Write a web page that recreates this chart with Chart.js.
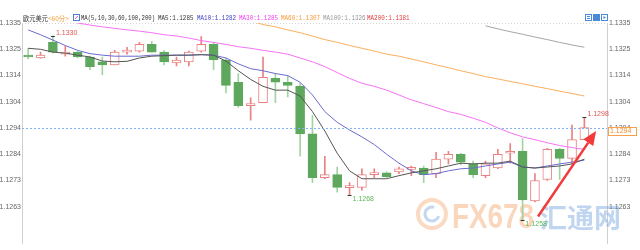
<!DOCTYPE html>
<html><head><meta charset="utf-8">
<script src="https://cdn.jsdelivr.net/npm/chart.js@4.4.1/dist/chart.umd.min.js"></script>
<style>html,body{margin:0;padding:0;background:#fff}canvas{display:block}</style>
</head><body>
<canvas id="c" width="640" height="250"></canvas>
<script>
// ---- data (EUR/USD, 60 min candles) ----
const opens  = [1.13224,1.13213,1.13274,1.13228,1.13236,1.13217,1.13198,1.13186,1.13236,1.13240,1.13266,1.13236,1.13194,1.13198,1.13240,1.13266,1.13205,1.13118,1.13026,1.13038,1.13133,1.13118,1.13102,1.12916,1.12744,1.12756,1.12705,1.12706,1.12756,1.12763,1.12767,1.12777,1.12782,1.12760,1.12817,1.12836,1.12798,1.12752,1.12782,1.12840,1.12847,1.12653,1.12737,1.12855,1.12820,1.12893];
const closes = [1.13217,1.13224,1.13236,1.13236,1.13217,1.13179,1.13186,1.13236,1.13240,1.13266,1.13236,1.13198,1.13205,1.13236,1.13266,1.13205,1.13106,1.13026,1.13034,1.13137,1.13118,1.13106,1.12916,1.12744,1.12756,1.12706,1.12706,1.12756,1.12763,1.12748,1.12779,1.12782,1.12756,1.12817,1.12836,1.12805,1.12756,1.12798,1.12836,1.12847,1.12657,1.12733,1.12855,1.12820,1.12893,1.12940];
const highs  = [1.13251,1.13236,1.13300,1.13259,1.13240,1.13220,1.13217,1.13243,1.13255,1.13274,1.13278,1.13243,1.13217,1.13240,1.13297,1.13274,1.13213,1.13152,1.13057,1.13217,1.13152,1.13144,1.13114,1.12988,1.12828,1.12786,1.12725,1.12779,1.12779,1.12767,1.12786,1.12790,1.12790,1.12843,1.12847,1.12840,1.12809,1.12809,1.12855,1.12878,1.12897,1.12760,1.12859,1.12859,1.12950,1.12980];
const lows   = [1.13209,1.13211,1.13232,1.13220,1.13213,1.13167,1.13148,1.13186,1.13228,1.13236,1.13236,1.13186,1.13182,1.13182,1.13236,1.13167,1.13076,1.13019,1.12969,1.13038,1.13038,1.13060,1.12828,1.12725,1.12740,1.12687,1.12678,1.12695,1.12744,1.12744,1.12760,1.12752,1.12725,1.12744,1.12798,1.12794,1.12744,1.12744,1.12779,1.12801,1.12578,1.12649,1.12733,1.12737,1.12798,1.12893];

const ma5   = [1.13251,1.13247,1.13236,1.13232,1.13224,1.13217,1.13201,1.13198,1.13200,1.13213,1.13220,1.13222,1.13224,1.13224,1.13226,1.13224,1.13201,1.13163,1.13129,1.13102,1.13087,1.13087,1.13064,1.13003,1.12927,1.12840,1.12771,1.12740,1.12740,1.12740,1.12752,1.12763,1.12771,1.12779,1.12790,1.12801,1.12798,1.12801,1.12801,1.12809,1.12786,1.12782,1.12786,1.12790,1.12798,1.12817];
const ma10  = [1.13323,1.13304,1.13283,1.13262,1.13243,1.13230,1.13224,1.13220,1.13220,1.13220,1.13224,1.13224,1.13224,1.13224,1.13226,1.13224,1.13213,1.13190,1.13171,1.13163,1.13152,1.13144,1.13118,1.13068,1.13003,1.12961,1.12931,1.12904,1.12874,1.12836,1.12801,1.12771,1.12756,1.12760,1.12771,1.12779,1.12782,1.12790,1.12798,1.12805,1.12786,1.12782,1.12790,1.12798,1.12805,1.12813];
const ma30  = [1.13400,1.13388,1.13377,1.13365,1.13350,1.13342,1.13335,1.13329,1.13323,1.13318,1.13312,1.13304,1.13299,1.13291,1.13281,1.13274,1.13266,1.13257,1.13251,1.13243,1.13236,1.13228,1.13213,1.13198,1.13179,1.13156,1.13133,1.13114,1.13102,1.13087,1.13068,1.13049,1.13034,1.13019,1.13003,1.12992,1.12977,1.12961,1.12939,1.12920,1.12904,1.12893,1.12881,1.12870,1.12862,1.12855];
const ma60  = [null,null,null,null,null,null,null,null,null,null,null,null,null,null,null,null,1.13377,1.13367,1.13358,1.13344,1.13335,1.13323,1.13312,1.13299,1.13285,1.13274,1.13262,1.13251,1.13240,1.13228,1.13220,1.13209,1.13198,1.13186,1.13175,1.13163,1.13152,1.13140,1.13131,1.13121,1.13112,1.13102,1.13093,1.13083,1.13074,1.13064];
const ma100 = [null,null,null,null,null,null,null,null,null,null,null,null,null,null,null,null,null,null,null,null,null,null,null,null,null,null,null,null,null,null,null,null,null,null,null,null,null,1.13339,1.13327,1.13316,1.13306,1.13295,1.13285,1.13274,1.13264,1.13255];

const tickValues = [1.1335,1.13247,1.13145,1.13042,1.12939,1.12836,1.12733,1.12630];
const tickLabels = ['1.1335','1.1325','1.1314','1.1304','1.1294','1.1284','1.1273','1.1263'];

const titleText = '欧元美元';
const periodText = '<60分>';
const maParamText = 'MA(5,10,30,60,100,200)';
const maLegend = ['MA5:1.1285','MA10:1.1282','MA30:1.1285','MA60:1.1307','MA100:1.1326','MA200:1.1381'];

const extremeMarks = [{i:2,kind:'high'},{i:26,kind:'low'},{i:40,kind:'low'},{i:45,kind:'high'}];
const arrowFrom = {x:41.25, y:1.12592};
const arrowTo   = {x:45.95, y:1.12927};

// ---- styles ----
const UP_LINE = '#e98282', DOWN_FILL = '#5da85d', DOWN_WICK = '#a3d3a3';
const isUp = opens.map((o,i)=>closes[i]>=o);
const pts = arr => arr.map((v,i)=>({x:i,y:v}));

const plugin = {
  id:'deco',
  beforeDatasetsDraw(chart){
    const {ctx, chartArea:a} = chart;
    ctx.save();
    ctx.strokeStyle='#d4d4d4'; ctx.lineWidth=1; ctx.setLineDash([1,2]);
    ctx.beginPath(); ctx.moveTo(a.left, a.top+0.5); ctx.lineTo(a.right, a.top+0.5); ctx.stroke();
    ctx.setLineDash([]);
    // watermark
    ctx.lineWidth=4; ctx.strokeStyle='rgba(240,150,80,0.35)';
    ctx.beginPath(); ctx.arc(432,214,14,0,Math.PI*2); ctx.stroke();
    ctx.lineWidth=3; ctx.strokeStyle='rgba(90,140,210,0.35)';
    ctx.beginPath(); ctx.arc(432,214,7,0.3,Math.PI*1.6); ctx.stroke();
    ctx.textBaseline='alphabetic'; ctx.textAlign='left';
    ctx.fillStyle='rgba(242,150,80,0.38)';
    ctx.font='bold 35px "Liberation Sans", Arial';
    ctx.fillText('FX678', 452, 228, 82);
    ctx.fillStyle='rgba(90,145,215,0.38)';
    ctx.font='bold 27px "Noto Sans CJK SC"';
    ctx.fillText('汇通网', 540, 228, 82);
    ctx.restore();
  },
  afterDatasetsDraw(chart){
    const {ctx, chartArea:a, scales:{x,y}} = chart;
    ctx.save();
    const py = Math.round(y.getPixelForValue(closes[closes.length-1]))+0.5;
    ctx.strokeStyle='#7fb2ee'; ctx.lineWidth=1; ctx.setLineDash([2,2]);
    ctx.beginPath(); ctx.moveTo(a.left, py); ctx.lineTo(a.right, py); ctx.stroke();
    ctx.setLineDash([]);
    // extremes
    ctx.font='7px "Liberation Sans", Arial'; ctx.textBaseline='middle'; ctx.textAlign='left';
    extremeMarks.forEach(m=>{
      const v = m.kind==='high' ? highs[m.i] : lows[m.i];
      const px = x.getPixelForValue(m.i), vy = y.getPixelForValue(v);
      ctx.strokeStyle='#333';
      ctx.beginPath(); ctx.moveTo(px-2, Math.round(vy)+0.5); ctx.lineTo(px+2, Math.round(vy)+0.5); ctx.stroke();
      ctx.fillStyle = m.kind==='high' ? '#e25555' : '#5cb85c';
      ctx.fillText(v.toFixed(4), px+3, m.kind==='high' ? vy-3 : vy+4);
    });
    // arrow
    const x1=x.getPixelForValue(arrowFrom.x), y1=y.getPixelForValue(arrowFrom.y);
    const x2=x.getPixelForValue(arrowTo.x), y2=y.getPixelForValue(arrowTo.y);
    const dx=x2-x1, dy=y2-y1, L=Math.hypot(dx,dy), ux=dx/L, uy=dy/L;
    const hb = {x:x2-ux*14, y:y2-uy*14};
    ctx.strokeStyle='#f23a3a'; ctx.fillStyle='#f23a3a'; ctx.lineWidth=2.5;
    ctx.beginPath(); ctx.moveTo(x1,y1); ctx.lineTo(hb.x,hb.y); ctx.stroke();
    ctx.beginPath(); ctx.moveTo(x2,y2); ctx.lineTo(hb.x-uy*6, hb.y+ux*6); ctx.lineTo(hb.x+uy*6, hb.y-ux*6); ctx.closePath(); ctx.fill();
    ctx.restore();
  },
  afterDraw(chart){
    const {ctx, chartArea:a, scales:{y}} = chart;
    ctx.save();
    // price box
    const py = Math.round(y.getPixelForValue(closes[closes.length-1]));
    ctx.fillStyle='#fff'; ctx.fillRect(608, py-1, 29, 9);
    ctx.strokeStyle='#f5a24a'; ctx.lineWidth=1; ctx.strokeRect(608.5, py-0.5, 28, 8);
    ctx.fillStyle='#f08a2a'; ctx.font='7px "Liberation Sans", Arial'; ctx.textBaseline='middle'; ctx.textAlign='left';
    ctx.fillText(closes[closes.length-1].toFixed(4), 610, py+3.5);
    // legend line
    const ly = 18.5;
    ctx.textBaseline='middle';
    ctx.fillStyle='#333'; ctx.font='6.5px "Noto Sans CJK SC"';
    ctx.fillText(titleText, 23, ly, 25);
    ctx.fillStyle='#f0a040'; ctx.fillText(periodText, 48, ly, 21);
    ctx.strokeStyle='#4a7fd0'; ctx.strokeRect(73.5, 14.5, 6, 6);
    ctx.strokeStyle='#e060e0'; ctx.beginPath(); ctx.moveTo(75,19); ctx.lineTo(78,16); ctx.stroke();
    ctx.font='6.5px "Liberation Mono", monospace';
    ctx.fillStyle='#333'; ctx.fillText(maParamText, 81, ly, 74);
    const legColors=['#333','#4040c8','#f040f0','#f59a3a','#999','#e03c3c'];
    const legX=[158,197,239,281,323,367];
    maLegend.forEach((t,i)=>{ ctx.fillStyle=legColors[i]; ctx.fillText(t, legX[i], ly, t.length*3.55); });
    // toolbar icons
    ctx.strokeStyle='#4a8ad8'; ctx.fillStyle='#fff';
    ctx.strokeRect(585.5,14.5,6,6); ctx.beginPath(); ctx.moveTo(587,16.5); ctx.lineTo(590,16.5); ctx.moveTo(587,18.5); ctx.lineTo(590,18.5); ctx.stroke();
    ctx.fillStyle='#4a8ad8'; ctx.fillRect(593,14,7,7);
    ctx.strokeRect(601.5,14.5,6,6); ctx.beginPath(); ctx.moveTo(603.5,16); ctx.lineTo(606,17.5); ctx.lineTo(603.5,19); ctx.closePath(); ctx.fill();
    ctx.restore();
  }
};

new Chart(document.getElementById('c'), {
  type:'bar',
  data:{
    datasets:[
      {type:'line', data:pts(ma5),  borderColor:'#555',    borderWidth:1, pointRadius:0, order:1},
      {type:'line', data:pts(ma10), borderColor:'#6a6ad0', borderWidth:1, pointRadius:0, order:1},
      {type:'line', data:pts(ma30), borderColor:'#f772f7', borderWidth:1, pointRadius:0, order:1},
      {type:'line', data:pts(ma60), borderColor:'#fcae5e', borderWidth:1, pointRadius:0, order:1},
      {type:'line', data:pts(ma100),borderColor:'#a6a6a6', borderWidth:1, pointRadius:0, order:1},
      {type:'bar', data:opens.map((o,i)=>({x:i,y:[o,closes[i]]})), grouped:false, barThickness:9, minBarLength:2,
        backgroundColor:isUp.map(u=>u?'#fff':DOWN_FILL), borderColor:isUp.map(u=>u?UP_LINE:DOWN_FILL), borderWidth:1, borderSkipped:false, order:2},
      {type:'bar', data:lows.map((l,i)=>({x:i,y:[l,highs[i]]})), grouped:false, barThickness:1,
        backgroundColor:isUp.map(u=>u?UP_LINE:DOWN_WICK), borderWidth:0, order:3}
    ]
  },
  options:{
    responsive:false, animation:false, devicePixelRatio:1,
    layout:{padding:{top:23,left:0,right:0,bottom:0}},
    plugins:{legend:{display:false}, tooltip:{enabled:false}},
    elements:{line:{tension:0}},
    scales:{
      x:{type:'linear', min:-0.5, max:46.83, offset:false, display:false},
      y:{position:'left', min:1.124852, max:1.1335,
        grid:{display:false, drawTicks:false}, border:{display:true, color:'#cfcfcf', dash:[1,2]},
        afterBuildTicks:s=>{s.ticks=tickValues.map(v=>({value:v}));},
        afterFit:s=>{s.width=22;},
        ticks:{autoSkip:false, padding:1, color:'#666', font:{size:7, family:'"Liberation Sans", Arial'}, callback:(v,i)=>tickLabels[i]}},
      y2:{position:'right', min:1.124852, max:1.1335,
        grid:{display:false, drawTicks:false}, border:{display:true, color:'#cfcfcf', dash:[1,2]},
        afterBuildTicks:s=>{s.ticks=tickValues.map(v=>({value:v}));},
        afterFit:s=>{s.width=33;},
        ticks:{autoSkip:false, padding:2, color:'#666', font:{size:7, family:'"Liberation Sans", Arial'}, callback:(v,i)=>tickLabels[i]}}
    }
  },
  plugins:[plugin]
});
</script>
</body></html>
